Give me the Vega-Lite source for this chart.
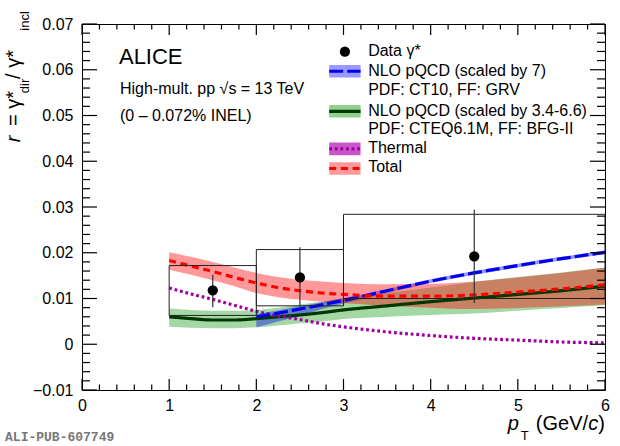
{
  "$schema": "https://vega.github.io/schema/vega-lite/v6.json",
  "width": 523,
  "height": 366,
  "autosize": {"type": "none"},
  "padding": {"left": 82, "top": 24, "right": 15, "bottom": 56},
  "background": "white",
  "config": {
    "font": "Liberation Sans",
    "view": {"stroke": "black", "strokeWidth": 1},
    "axis": {"grid": false, "domain": false, "ticks": false, "title": null, "labelColor": "black", "labelFontSize": 16, "labelFlush": false, "labelOverlap": false}
  },
  "datasets": {
    "meas": [
      {"pt": 1.5, "r": 0.0118, "lo": 0.0081, "hi": 0.0152, "ptlo": 1, "pthi": 2, "syslo": 0.0063, "syshi": 0.0172},
      {"pt": 2.5, "r": 0.0146, "lo": 0.0082, "hi": 0.0212, "ptlo": 2, "pthi": 3, "syslo": 0.0084, "syshi": 0.0207},
      {"pt": 4.5, "r": 0.0192, "lo": 0.0090, "hi": 0.0294, "ptlo": 3, "pthi": 6, "syslo": 0.0100, "syshi": 0.0284}
    ],
    "model": [
      {"series": "nlo_bfg", "pt": 1.0, "r": 0.0060, "lo": 0.0038, "hi": 0.0078},
      {"series": "nlo_bfg", "pt": 1.25, "r": 0.0056, "lo": 0.0036, "hi": 0.0075},
      {"series": "nlo_bfg", "pt": 1.5, "r": 0.0053, "lo": 0.0035, "hi": 0.0073},
      {"series": "nlo_bfg", "pt": 1.75, "r": 0.0053, "lo": 0.0035, "hi": 0.0073},
      {"series": "nlo_bfg", "pt": 2.0, "r": 0.0056, "lo": 0.0037, "hi": 0.0075},
      {"series": "nlo_bfg", "pt": 2.25, "r": 0.0060, "lo": 0.0041, "hi": 0.0080},
      {"series": "nlo_bfg", "pt": 2.5, "r": 0.0064, "lo": 0.0046, "hi": 0.0087},
      {"series": "nlo_bfg", "pt": 2.75, "r": 0.0069, "lo": 0.0050, "hi": 0.0093},
      {"series": "nlo_bfg", "pt": 3.0, "r": 0.0075, "lo": 0.0055, "hi": 0.0100},
      {"series": "nlo_bfg", "pt": 3.5, "r": 0.0084, "lo": 0.0060, "hi": 0.0112},
      {"series": "nlo_bfg", "pt": 4.0, "r": 0.0093, "lo": 0.0064, "hi": 0.0124},
      {"series": "nlo_bfg", "pt": 4.5, "r": 0.0101, "lo": 0.0067, "hi": 0.0136},
      {"series": "nlo_bfg", "pt": 5.0, "r": 0.0109, "lo": 0.0073, "hi": 0.0147},
      {"series": "nlo_bfg", "pt": 5.5, "r": 0.0117, "lo": 0.0079, "hi": 0.0157},
      {"series": "nlo_bfg", "pt": 6.0, "r": 0.0127, "lo": 0.0085, "hi": 0.0167},
      {"series": "thermal", "pt": 1.0, "r": 0.0123},
      {"series": "thermal", "pt": 1.25, "r": 0.0110},
      {"series": "thermal", "pt": 1.5, "r": 0.0098},
      {"series": "thermal", "pt": 1.75, "r": 0.0085},
      {"series": "thermal", "pt": 2.0, "r": 0.0072},
      {"series": "thermal", "pt": 2.25, "r": 0.0062},
      {"series": "thermal", "pt": 2.5, "r": 0.0054},
      {"series": "thermal", "pt": 2.75, "r": 0.0045},
      {"series": "thermal", "pt": 3.0, "r": 0.0038},
      {"series": "thermal", "pt": 3.5, "r": 0.0027},
      {"series": "thermal", "pt": 4.0, "r": 0.0019},
      {"series": "thermal", "pt": 4.5, "r": 0.0013},
      {"series": "thermal", "pt": 5.0, "r": 0.0009},
      {"series": "thermal", "pt": 5.5, "r": 0.0005},
      {"series": "thermal", "pt": 6.0, "r": 0.0003},
      {"series": "nlo7", "pt": 2.0, "r": 0.0060, "lo": 0.0037, "hi": 0.0066},
      {"series": "nlo7", "pt": 2.25, "r": 0.0068, "lo": 0.0050, "hi": 0.0074},
      {"series": "nlo7", "pt": 2.5, "r": 0.0077, "lo": 0.0062, "hi": 0.0083},
      {"series": "nlo7", "pt": 2.75, "r": 0.0086, "lo": 0.0077, "hi": 0.0092},
      {"series": "nlo7", "pt": 3.0, "r": 0.0096, "lo": 0.0089, "hi": 0.0101},
      {"series": "nlo7", "pt": 3.5, "r": 0.0117, "lo": 0.0112, "hi": 0.0121},
      {"series": "nlo7", "pt": 4.0, "r": 0.0138, "lo": 0.0134, "hi": 0.0142},
      {"series": "nlo7", "pt": 4.5, "r": 0.0156, "lo": 0.0152, "hi": 0.0160},
      {"series": "nlo7", "pt": 5.0, "r": 0.0172, "lo": 0.0168, "hi": 0.0176},
      {"series": "nlo7", "pt": 5.5, "r": 0.0187, "lo": 0.0183, "hi": 0.0191},
      {"series": "nlo7", "pt": 6.0, "r": 0.0201, "lo": 0.0197, "hi": 0.0205},
      {"series": "total", "pt": 1.0, "r": 0.0183, "lo": 0.0163, "hi": 0.0201},
      {"series": "total", "pt": 1.25, "r": 0.0171, "lo": 0.0152, "hi": 0.0191},
      {"series": "total", "pt": 1.5, "r": 0.0159, "lo": 0.0140, "hi": 0.0180},
      {"series": "total", "pt": 1.75, "r": 0.0146, "lo": 0.0127, "hi": 0.0168},
      {"series": "total", "pt": 2.0, "r": 0.0134, "lo": 0.0112, "hi": 0.0156},
      {"series": "total", "pt": 2.25, "r": 0.0124, "lo": 0.0103, "hi": 0.0147},
      {"series": "total", "pt": 2.5, "r": 0.0117, "lo": 0.0097, "hi": 0.0141},
      {"series": "total", "pt": 2.75, "r": 0.0112, "lo": 0.0093, "hi": 0.0137},
      {"series": "total", "pt": 3.0, "r": 0.0109, "lo": 0.0090, "hi": 0.0134},
      {"series": "total", "pt": 3.5, "r": 0.0105, "lo": 0.0084, "hi": 0.0131},
      {"series": "total", "pt": 4.0, "r": 0.0105, "lo": 0.0080, "hi": 0.0132},
      {"series": "total", "pt": 4.5, "r": 0.0108, "lo": 0.0077, "hi": 0.0137},
      {"series": "total", "pt": 5.0, "r": 0.0114, "lo": 0.0079, "hi": 0.0146},
      {"series": "total", "pt": 5.5, "r": 0.0121, "lo": 0.0083, "hi": 0.0156},
      {"series": "total", "pt": 6.0, "r": 0.0130, "lo": 0.0087, "hi": 0.0168}
    ],
    "xt_major": [{"v": 0}, {"v": 1}, {"v": 2}, {"v": 3}, {"v": 4}, {"v": 5}, {"v": 6}],
    "xt_minor": [
      {"v": 0.2}, {"v": 0.4}, {"v": 0.6}, {"v": 0.8}, {"v": 1.2}, {"v": 1.4}, {"v": 1.6}, {"v": 1.8},
      {"v": 2.2}, {"v": 2.4}, {"v": 2.6}, {"v": 2.8}, {"v": 3.2}, {"v": 3.4}, {"v": 3.6}, {"v": 3.8},
      {"v": 4.2}, {"v": 4.4}, {"v": 4.6}, {"v": 4.8}, {"v": 5.2}, {"v": 5.4}, {"v": 5.6}, {"v": 5.8}
    ],
    "yt_major": [{"v": -0.01}, {"v": 0}, {"v": 0.01}, {"v": 0.02}, {"v": 0.03}, {"v": 0.04}, {"v": 0.05}, {"v": 0.06}, {"v": 0.07}],
    "yt_minor": [
      {"v": -0.008}, {"v": -0.006}, {"v": -0.004}, {"v": -0.002}, {"v": 0.002}, {"v": 0.004}, {"v": 0.006}, {"v": 0.008},
      {"v": 0.012}, {"v": 0.014}, {"v": 0.016}, {"v": 0.018}, {"v": 0.022}, {"v": 0.024}, {"v": 0.026}, {"v": 0.028},
      {"v": 0.032}, {"v": 0.034}, {"v": 0.036}, {"v": 0.038}, {"v": 0.042}, {"v": 0.044}, {"v": 0.046}, {"v": 0.048},
      {"v": 0.052}, {"v": 0.054}, {"v": 0.056}, {"v": 0.058}, {"v": 0.062}, {"v": 0.064}, {"v": 0.066}, {"v": 0.068}
    ],
    "legend_sw": [
      {"series": "nlo7", "y": 0.05967, "lo": 0.05828, "hi": 0.06105},
      {"series": "nlo_bfg", "y": 0.05092, "lo": 0.04954, "hi": 0.05231},
      {"series": "thermal", "y": 0.04270, "lo": 0.04131, "hi": 0.04409},
      {"series": "total", "y": 0.03841, "lo": 0.03703, "hi": 0.03980}
    ],
    "legend_txt": [
      {"y": 0.06417, "t": "Data γ*"},
      {"y": 0.05974, "t": "NLO pQCD (scaled by 7)"},
      {"y": 0.05559, "t": "PDF: CT10, FF: GRV"},
      {"y": 0.05100, "t": "NLO pQCD (scaled by 3.4-6.6)"},
      {"y": 0.04704, "t": "PDF: CTEQ6.1M, FF: BFG-II"},
      {"y": 0.04288, "t": "Thermal"},
      {"y": 0.03873, "t": "Total"}
    ],
    "info": [
      {"x": 0.436, "y": 0.0558, "t": "High-mult. pp √s = 13 TeV"},
      {"x": 0.436, "y": 0.0499, "t": "(0 – 0.072% INEL)"}
    ],
    "ytitle": [
      {"x": -0.78, "y": 0.05155, "t": "= γ*"},
      {"x": -0.78, "y": 0.06116, "t": "/ γ*"}
    ],
    "ysub": [
      {"x": -0.654, "y": 0.05646, "t": "dir"},
      {"x": -0.654, "y": 0.07066, "t": "incl"}
    ]
  },
  "layer": [
    {
      "data": {"name": "model"},
      "transform": [{"filter": "isValid(datum.lo)"}],
      "mark": {"type": "area", "fillOpacity": 0.4, "interpolate": "monotone"},
      "encoding": {
        "x": {"field": "pt", "type": "quantitative", "scale": {"domain": [0, 6], "nice": false, "zero": false},
          "axis": {"orient": "bottom", "labelPadding": 7, "values": [0, 1, 2, 3, 4, 5, 6], "format": "d"}},
        "y": {"field": "lo", "type": "quantitative", "stack": null, "scale": {"domain": [-0.01, 0.07], "nice": false, "zero": false},
          "axis": {"orient": "left", "labelPadding": 9,
            "values": [-0.01, 0, 0.01, 0.02, 0.03, 0.04, 0.05, 0.06, 0.07],
            "labelExpr": "abs(datum.value) < 1e-9 ? '0' : format(datum.value, '.2f')"}},
        "y2": {"field": "hi"},
        "fill": {"field": "series", "type": "nominal", "legend": null, "sort": null,
          "scale": {"domain": ["nlo_bfg", "nlo7", "total"], "range": ["#1a9a1a", "#0000ff", "#ff0000"]}}
      }
    },
    {
      "mark": {"type": "rule", "stroke": "#555", "strokeWidth": 1, "strokeDash": [3, 3]},
      "encoding": {"y": {"datum": 0, "type": "quantitative"}}
    },
    {
      "data": {"name": "model"},
      "mark": {"type": "line", "strokeWidth": 3.2, "interpolate": "monotone"},
      "encoding": {
        "x": {"field": "pt", "type": "quantitative"},
        "y": {"field": "r", "type": "quantitative"},
        "stroke": {"field": "series", "type": "nominal", "legend": null, "sort": null,
          "scale": {"domain": ["nlo_bfg", "thermal", "nlo7", "total"], "range": ["#003800", "#a000a0", "#0000f0", "#ff0000"]}},
        "strokeDash": {"field": "series", "type": "nominal", "legend": null, "sort": null,
          "scale": {"domain": ["nlo_bfg", "thermal", "nlo7", "total"], "range": [[1, 0], [2.8, 2.8], [14, 4], [7, 4.7]]}}
      }
    },
    {
      "data": {"name": "meas"},
      "mark": {"type": "rect", "fillOpacity": 0, "stroke": "#222", "strokeWidth": 1},
      "encoding": {
        "x": {"field": "ptlo", "type": "quantitative"},
        "x2": {"field": "pthi"},
        "y": {"field": "syslo", "type": "quantitative"},
        "y2": {"field": "syshi"}
      }
    },
    {
      "data": {"name": "meas"},
      "mark": {"type": "rule", "stroke": "#333", "strokeWidth": 1.2},
      "encoding": {
        "x": {"field": "pt", "type": "quantitative"},
        "y": {"field": "lo", "type": "quantitative"},
        "y2": {"field": "hi"}
      }
    },
    {
      "data": {"name": "meas"},
      "mark": {"type": "point", "shape": "circle", "filled": true, "size": 105, "color": "black", "opacity": 1},
      "encoding": {
        "x": {"field": "pt", "type": "quantitative"},
        "y": {"field": "r", "type": "quantitative"}
      }
    },
    {
      "data": {"name": "xt_major"},
      "mark": {"type": "rule", "stroke": "black", "strokeWidth": 1.2},
      "encoding": {"x": {"field": "v", "type": "quantitative"}, "y": {"datum": -0.01, "type": "quantitative"}, "y2": {"datum": -0.0076}}
    },
    {
      "data": {"name": "xt_major"},
      "mark": {"type": "rule", "stroke": "black", "strokeWidth": 1.2},
      "encoding": {"x": {"field": "v", "type": "quantitative"}, "y": {"datum": 0.07, "type": "quantitative"}, "y2": {"datum": 0.0676}}
    },
    {
      "data": {"name": "xt_minor"},
      "mark": {"type": "rule", "stroke": "black", "strokeWidth": 1.2},
      "encoding": {"x": {"field": "v", "type": "quantitative"}, "y": {"datum": -0.01, "type": "quantitative"}, "y2": {"datum": -0.0088}}
    },
    {
      "data": {"name": "xt_minor"},
      "mark": {"type": "rule", "stroke": "black", "strokeWidth": 1.2},
      "encoding": {"x": {"field": "v", "type": "quantitative"}, "y": {"datum": 0.07, "type": "quantitative"}, "y2": {"datum": 0.0688}}
    },
    {
      "data": {"name": "yt_major"},
      "mark": {"type": "rule", "stroke": "black", "strokeWidth": 1.2},
      "encoding": {"y": {"field": "v", "type": "quantitative"}, "x": {"datum": 0, "type": "quantitative"}, "x2": {"datum": 0.172}}
    },
    {
      "data": {"name": "yt_major"},
      "mark": {"type": "rule", "stroke": "black", "strokeWidth": 1.2},
      "encoding": {"y": {"field": "v", "type": "quantitative"}, "x": {"datum": 6, "type": "quantitative"}, "x2": {"datum": 5.828}}
    },
    {
      "data": {"name": "yt_minor"},
      "mark": {"type": "rule", "stroke": "black", "strokeWidth": 1.2},
      "encoding": {"y": {"field": "v", "type": "quantitative"}, "x": {"datum": 0, "type": "quantitative"}, "x2": {"datum": 0.092}}
    },
    {
      "data": {"name": "yt_minor"},
      "mark": {"type": "rule", "stroke": "black", "strokeWidth": 1.2},
      "encoding": {"y": {"field": "v", "type": "quantitative"}, "x": {"datum": 6, "type": "quantitative"}, "x2": {"datum": 5.908}}
    },
    {
      "data": {"name": "legend_sw"},
      "mark": {"type": "rect"},
      "encoding": {
        "x": {"datum": 2.836, "type": "quantitative"},
        "x2": {"datum": 3.196},
        "y": {"field": "lo", "type": "quantitative"},
        "y2": {"field": "hi"},
        "color": {"field": "series", "type": "nominal", "legend": null,
          "scale": {"domain": ["nlo7", "nlo_bfg", "thermal", "total"], "range": ["#9999ff", "#8fd08f", "#c955c9", "#ff9999"]}}
      }
    },
    {
      "data": {"name": "legend_sw"},
      "mark": {"type": "rule", "strokeWidth": 3.2},
      "encoding": {
        "x": {"datum": 2.836, "type": "quantitative"},
        "x2": {"datum": 3.196},
        "y": {"field": "y", "type": "quantitative"},
        "stroke": {"field": "series", "type": "nominal", "legend": null},
        "strokeDash": {"field": "series", "type": "nominal", "legend": null}
      }
    },
    {
      "data": {"values": [{"y": 0.06396}]},
      "mark": {"type": "point", "shape": "circle", "filled": true, "size": 105, "color": "black", "opacity": 1},
      "encoding": {
        "x": {"datum": 3.016, "type": "quantitative"},
        "y": {"field": "y", "type": "quantitative"}
      }
    },
    {
      "data": {"name": "legend_txt"},
      "mark": {"type": "text", "align": "left", "baseline": "middle", "fontSize": 16, "color": "black"},
      "encoding": {
        "x": {"datum": 3.283, "type": "quantitative"},
        "y": {"field": "y", "type": "quantitative"},
        "text": {"field": "t"}
      }
    },
    {
      "data": {"values": [{"x": 0.424, "y": 0.0628, "t": "ALICE"}]},
      "mark": {"type": "text", "align": "left", "baseline": "middle", "fontSize": 22, "color": "black"},
      "encoding": {
        "x": {"field": "x", "type": "quantitative"},
        "y": {"field": "y", "type": "quantitative"},
        "text": {"field": "t"}
      }
    },
    {
      "data": {"name": "info"},
      "mark": {"type": "text", "align": "left", "baseline": "middle", "fontSize": 16, "color": "black"},
      "encoding": {
        "x": {"field": "x", "type": "quantitative"},
        "y": {"field": "y", "type": "quantitative"},
        "text": {"field": "t"}
      }
    },
    {
      "data": {"values": [{"x": -0.78, "y": 0.04490, "t": "r"}]},
      "mark": {"type": "text", "align": "center", "baseline": "middle", "angle": 270, "fontSize": 20, "fontStyle": "italic", "color": "black"},
      "encoding": {
        "x": {"field": "x", "type": "quantitative"},
        "y": {"field": "y", "type": "quantitative"},
        "text": {"field": "t"}
      }
    },
    {
      "data": {"name": "ytitle"},
      "mark": {"type": "text", "align": "center", "baseline": "middle", "angle": 270, "fontSize": 20, "color": "black"},
      "encoding": {
        "x": {"field": "x", "type": "quantitative"},
        "y": {"field": "y", "type": "quantitative"},
        "text": {"field": "t"}
      }
    },
    {
      "data": {"name": "ysub"},
      "mark": {"type": "text", "align": "center", "baseline": "middle", "angle": 270, "fontSize": 13, "color": "black"},
      "encoding": {
        "x": {"field": "x", "type": "quantitative"},
        "y": {"field": "y", "type": "quantitative"},
        "text": {"field": "t"}
      }
    },
    {
      "data": {"values": [{"x": 4.885, "y": -0.01870, "t": "p"}]},
      "mark": {"type": "text", "align": "left", "baseline": "alphabetic", "fontSize": 20, "fontStyle": "italic", "color": "black"},
      "encoding": {
        "x": {"field": "x", "type": "quantitative"},
        "y": {"field": "y", "type": "quantitative"},
        "text": {"field": "t"}
      }
    },
    {
      "data": {"values": [{"x": 5.034, "y": -0.02085, "t": "T"}]},
      "mark": {"type": "text", "align": "left", "baseline": "alphabetic", "fontSize": 13, "color": "black"},
      "encoding": {
        "x": {"field": "x", "type": "quantitative"},
        "y": {"field": "y", "type": "quantitative"},
        "text": {"field": "t"}
      }
    },
    {
      "data": {"values": [{"x": 5.806, "y": -0.01870, "t": "(GeV/"}, {"x": 6.0, "y": -0.01870, "t": ")"}]},
      "mark": {"type": "text", "align": "right", "baseline": "alphabetic", "fontSize": 20, "color": "black"},
      "encoding": {
        "x": {"field": "x", "type": "quantitative"},
        "y": {"field": "y", "type": "quantitative"},
        "text": {"field": "t"}
      }
    },
    {
      "data": {"values": [{"x": 5.923, "y": -0.01870, "t": "c"}]},
      "mark": {"type": "text", "align": "right", "baseline": "alphabetic", "fontSize": 20, "fontStyle": "italic", "color": "black"},
      "encoding": {
        "x": {"field": "x", "type": "quantitative"},
        "y": {"field": "y", "type": "quantitative"},
        "text": {"field": "t"}
      }
    },
    {
      "data": {"values": [{"x": -0.883, "y": -0.0202, "t": "ALI-PUB-607749"}]},
      "mark": {"type": "text", "align": "left", "baseline": "middle", "fontSize": 13, "font": "Liberation Mono", "fontWeight": "bold", "color": "#777"},
      "encoding": {
        "x": {"field": "x", "type": "quantitative"},
        "y": {"field": "y", "type": "quantitative"},
        "text": {"field": "t"}
      }
    }
  ]
}
